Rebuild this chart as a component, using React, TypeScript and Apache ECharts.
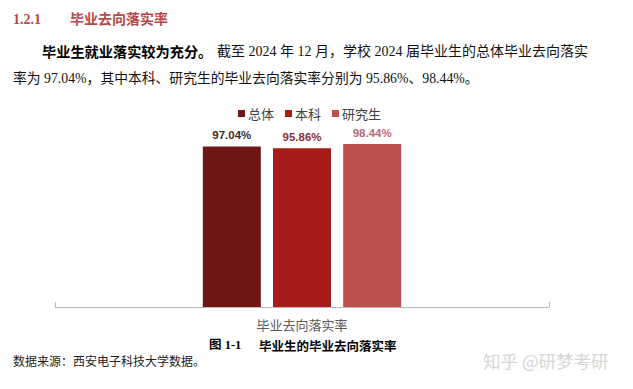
import React, { useEffect, useRef } from "react";
import * as echarts from "echarts";

const categories = ["毕业去向落实率"];
const seriesNames = ["总体", "本科", "研究生"];
const seriesValues = [97.04, 95.86, 98.44];
const barColors = ["#6e1717", "#a81b19", "#c0504f"];
const labelColors = ["#3e2a2d", "#8c3037", "#b86878"];

const SERIF = '"Liberation Serif", "Noto Sans CJK SC", serif';
const CJK = '"Noto Sans CJK SC", sans-serif';

export default function App() {
  const ref = useRef<HTMLDivElement>(null);
  useEffect(() => {
    if (!ref.current) return;
    const chart = echarts.init(ref.current, undefined, { renderer: "svg" });
    const series = seriesNames.map((name, i) => ({
      name,
      type: "bar",
      data: [seriesValues[i]],
      barWidth: 58,
      barGap: "21%",
      itemStyle: { color: barColors[i] },
      label: {
        show: true,
        position: "top",
        distance: 5,
        formatter: (p: any) => p.value.toFixed(2) + "%",
        color: labelColors[i],
        fontSize: 11.5,
        fontWeight: "bold",
        fontFamily: '"Liberation Sans", "Noto Sans", sans-serif',
      },
    }));
    chart.setOption({
      animation: false,
      backgroundColor: "#ffffff",
      grid: { left: 55, right: 84, top: 141.5, bottom: 82, containLabel: false },
      legend: {
        data: seriesNames,
        left: 233,
        top: 102,
        icon: "rect",
        itemWidth: 7,
        itemHeight: 7,
        itemGap: 11,
        textStyle: { fontSize: 13, color: "#404040", fontFamily: CJK, padding: [0, 0, 0, -2] },
      },
      xAxis: {
        type: "category",
        data: categories,
        axisLine: { lineStyle: { color: "#b8b8b8", width: 1 } },
        axisTick: { show: true, inside: true, length: 5, lineStyle: { color: "#b8b8b8" } },
        axisLabel: { color: "#595959", fontSize: 13, margin: 11, fontFamily: CJK },
      },
      yAxis: {
        type: "value",
        min: 0,
        max: 100,
        show: false,
      },
      series,
      graphic: [
        { type: "text", left: 13, top: 12, style: { text: "1.2.1", fontSize: 14, fontWeight: "bold", fill: "#b5484b", fontFamily: SERIF } },
        { type: "text", left: 70, top: 11, style: { text: "毕业去向落实率", fontSize: 14, fontWeight: "bold", fill: "#b5484b", fontFamily: CJK } },
        { type: "text", left: 42, top: 44, style: { text: "毕业生就业落实较为充分。", fontSize: 14.2, fontWeight: "bold", fill: "#000", fontFamily: CJK } },
        { type: "text", left: 217, top: 44, style: { text: "截至 2024 年 12 月，学校 2024 届毕业生的总体毕业去向落实", fontSize: 14, fill: "#111", fontFamily: SERIF } },
        {
          type: "text",
          left: 13,
          top: 72,
          style: {
            text: "率为 97.04%，其中本科、研究生的毕业去向落实率分别为 95.86%、98.44%。",
            fontSize: 13.8,
            fill: "#111",
            fontFamily: SERIF,
          },
        },
        { type: "text", left: 209, top: 339, style: { text: "图 1-1", fontSize: 12.5, fontWeight: "bold", fill: "#000", fontFamily: SERIF } },
        { type: "text", left: 259, top: 339, style: { text: "毕业生的毕业去向落实率", fontSize: 12.5, fontWeight: "bold", fill: "#000", fontFamily: CJK } },
        { type: "text", left: 13, top: 356, style: { text: "数据来源：西安电子科技大学数据。", fontSize: 12, fill: "#222", fontFamily: SERIF } },
        { type: "text", left: 483, top: 352, style: { text: "知乎 @研梦考研", fontSize: 17.5, fill: "#d6d6d6", fontFamily: CJK } },
      ],
    });
    return () => chart.dispose();
  }, []);
  return (
    <div
      ref={ref}
      style={{ position: "fixed", left: 0, top: 0, width: 633, height: 389, background: "#fff" }}
    />
  );
}
